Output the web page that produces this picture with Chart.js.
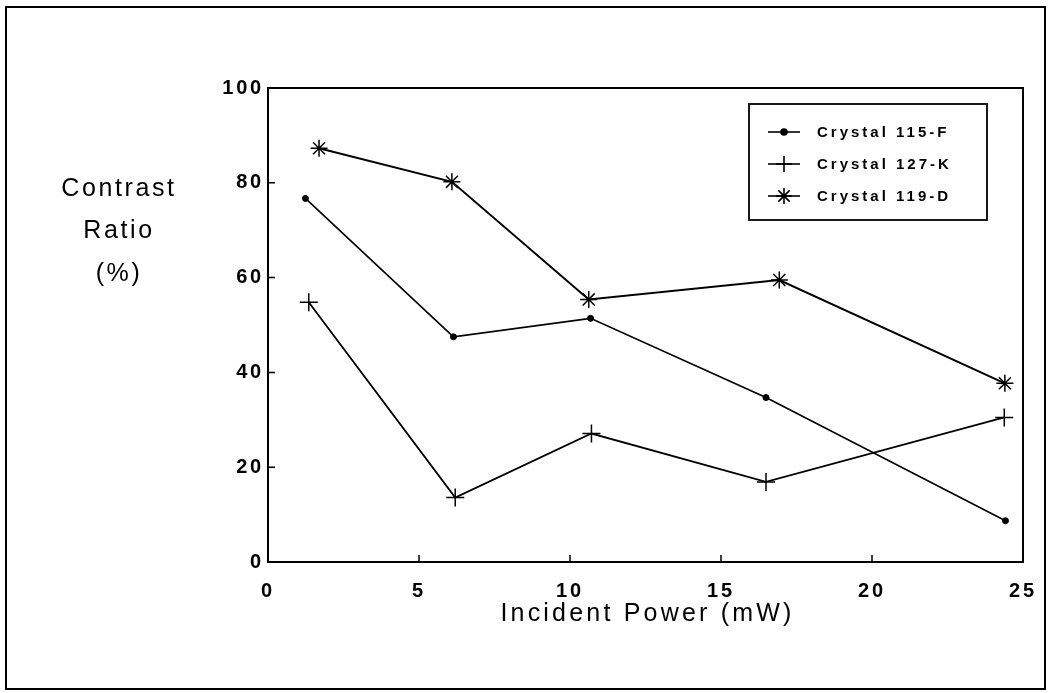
<!DOCTYPE html>
<html>
<head>
<meta charset="utf-8">
<script src="https://cdn.jsdelivr.net/npm/chart.js@4.4.0/dist/chart.umd.min.js"></script>
<style>
  html, body { margin: 0; padding: 0; background: #fff; }
  #wrap { width: 1061px; height: 693px; position: relative; }
</style>
</head>
<body>
<div id="wrap"><canvas id="c" width="1061" height="693"></canvas></div>
<script>
// ---- data ----
const seriesNames = ['Crystal 115-F', 'Crystal 127-K', 'Crystal 119-D'];
const crystal115F_x = [1.24, 6.14, 10.68, 16.49, 24.42];
const crystal115F_y = [76.7, 47.5, 51.4, 34.7, 8.7];
const crystal127K_x = [1.35, 6.20, 10.71, 16.49, 24.38];
const crystal127K_y = [54.8, 13.6, 27.1, 16.9, 30.5];
const crystal119D_x = [1.69, 6.09, 10.62, 16.93, 24.40];
const crystal119D_y = [87.3, 80.2, 55.4, 59.5, 37.7];
const xTickValues = [0, 5, 10, 15, 20, 25];
const yTickValues = [0, 20, 40, 60, 80, 100];
const xTitle = 'Incident Power (mW)';
const yTitleLines = ['Contrast', 'Ratio', '(%)'];

function pts(xs, ys) { return xs.map((x, i) => ({ x: x, y: ys[i] })); }

const FONT = "'Liberation Sans', Arial, Helvetica, sans-serif";

const decor = {
  id: 'decor',
  beforeDraw(chart) {
    const ctx = chart.ctx;
    ctx.save();
    ctx.fillStyle = '#fff';
    ctx.fillRect(0, 0, chart.width, chart.height);
    ctx.restore();
    ctx.letterSpacing = '2.8px';
  },
  afterDraw(chart) {
    const ctx = chart.ctx;
    const a = chart.chartArea;
    const xs = chart.scales.x, ys = chart.scales.y;
    ctx.save();
    ctx.letterSpacing = '0px';
    ctx.strokeStyle = '#000';
    // plot box (top + right)
    ctx.lineWidth = 2;
    ctx.beginPath();
    ctx.moveTo(a.left, a.top); ctx.lineTo(a.right, a.top); ctx.lineTo(a.right, a.bottom);
    ctx.stroke();
    // inner ticks
    ctx.lineWidth = 1.5;
    ctx.beginPath();
    xTickValues.slice(1, -1).forEach(v => {
      const px = xs.getPixelForValue(v);
      ctx.moveTo(px, a.bottom); ctx.lineTo(px, a.bottom - 7);
    });
    yTickValues.slice(1, -1).forEach(v => {
      const py = ys.getPixelForValue(v);
      ctx.moveTo(a.left, py); ctx.lineTo(a.left + 7, py);
    });
    ctx.stroke();
    // outer frame
    ctx.lineWidth = 2;
    ctx.strokeRect(6, 7, 1039, 682);

    // axis titles
    ctx.fillStyle = '#000';
    ctx.textAlign = 'center';
    ctx.textBaseline = 'middle';
    ctx.font = '25px ' + FONT;
    ctx.letterSpacing = '3.2px';
    ctx.fillText(xTitle, (a.left + a.right) / 2 + 2, 614);
    ctx.letterSpacing = '2.6px';
    const yTitleY = [189, 231, 274];
    yTitleLines.forEach((t, i) => ctx.fillText(t, 119, yTitleY[i]));

    // legend box
    ctx.lineWidth = 1.8;
    ctx.strokeRect(749, 104, 238, 116);
    const rows = [132, 164, 196];
    ctx.font = 'bold 15px ' + FONT;
    ctx.letterSpacing = '3px';
    ctx.textAlign = 'left';
    chart.data.datasets.forEach((ds, i) => {
      const y = rows[i];
      ctx.lineWidth = 1.6;
      ctx.strokeStyle = '#000';
      ctx.beginPath(); ctx.moveTo(768, y); ctx.lineTo(800, y); ctx.stroke();
      const opts = {
        pointStyle: ds.pointStyle,
        radius: ds.pointStyle === 'circle' ? 3 : 8,
        borderWidth: ds.pointBorderWidth,
        rotation: 0
      };
      ctx.fillStyle = '#000';
      ctx.strokeStyle = '#000';
      if (Chart.helpers && Chart.helpers.drawPoint) {
        Chart.helpers.drawPoint(ctx, opts, 784, y);
      }
      ctx.fillStyle = '#000';
      ctx.fillText(ds.label, 817, y + 1);
    });
    ctx.restore();
    ctx.letterSpacing = '0px';
  }
};

new Chart(document.getElementById('c'), {
  type: 'scatter',
  data: {
    datasets: [
      { label: seriesNames[0], data: pts(crystal115F_x, crystal115F_y), showLine: true,
        borderColor: '#000', backgroundColor: '#000', borderWidth: 1.6,
        pointStyle: 'circle', pointRadius: 3, pointBorderWidth: 1, pointBackgroundColor: '#000', pointBorderColor: '#000' },
      { label: seriesNames[1], data: pts(crystal127K_x, crystal127K_y), showLine: true,
        borderColor: '#000', backgroundColor: '#000', borderWidth: 1.8,
        pointStyle: 'cross', pointRadius: 9, pointBorderWidth: 1.5, pointBorderColor: '#000' },
      { label: seriesNames[2], data: pts(crystal119D_x, crystal119D_y), showLine: true,
        borderColor: '#000', backgroundColor: '#000', borderWidth: 2,
        pointStyle: 'star', pointRadius: 8.5, pointBorderWidth: 1.5, pointBorderColor: '#000' }
    ]
  },
  options: {
    responsive: false,
    animation: false,
    events: [],
    layout: { padding: { top: 88, right: 38, left: 0, bottom: 0 } },
    plugins: { legend: { display: false }, tooltip: { enabled: false } },
    scales: {
      x: {
        type: 'linear', min: 0, max: 25,
        afterBuildTicks: s => { s.ticks = xTickValues.map(v => ({ value: v })); },
        afterFit: s => { s.height = 131; },
        grid: { display: true, drawOnChartArea: false, drawTicks: false },
        border: { display: true, color: '#000', width: 2 },
        ticks: { color: '#000', padding: 17, maxRotation: 0, autoSkip: false,
                 font: { family: FONT, size: 20, weight: 'bold' } },
        title: { display: false }
      },
      y: {
        type: 'linear', min: 0, max: 100,
        afterBuildTicks: s => { s.ticks = yTickValues.map(v => ({ value: v })); },
        afterFit: s => { s.width = 268; },
        grid: { display: true, drawOnChartArea: false, drawTicks: false },
        border: { display: true, color: '#000', width: 2 },
        ticks: { color: '#000', padding: 4, autoSkip: false,
                 font: { family: FONT, size: 20, weight: 'bold' } },
        title: { display: false }
      }
    }
  },
  plugins: [decor]
});
</script>
</body>
</html>
